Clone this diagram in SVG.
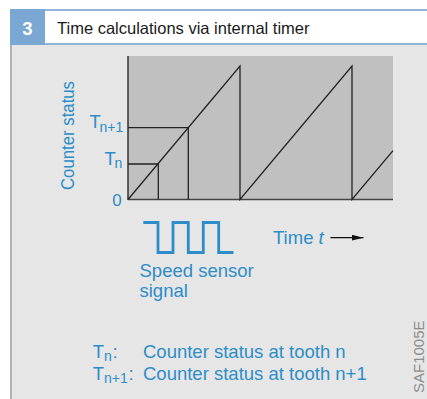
<svg xmlns="http://www.w3.org/2000/svg" width="427" height="399" viewBox="0 0 427 399">
<defs>
<style>
.blue{fill:#2d8dc8;font-family:"Liberation Sans",Arial,sans-serif}
.l18{font-size:18.5px}
.sub{font-size:14px}
.ln{stroke:#222;stroke-width:1.3;fill:none}
</style>
<marker id="arr" viewBox="0 0 12 6" refX="12" refY="3" markerWidth="12" markerHeight="6" markerUnits="userSpaceOnUse" orient="auto">
<path d="M0,0 L12,3 L0,6 Z" fill="#111"/>
</marker>
</defs>
<rect x="0" y="0" width="427" height="399" fill="#fff"/>
<g id="header">
<rect x="10" y="9" width="417" height="2" fill="#8fb5da"/>
<rect x="10" y="43" width="417" height="2" fill="#8fb5da"/>
<rect x="10" y="9" width="35" height="36" fill="#7ba8d2"/>
<text x="27.5" y="35" text-anchor="middle" font-family="Liberation Sans,Arial,sans-serif" font-weight="bold" font-size="18.5" fill="#fff">3</text>
<text x="57" y="34.3" font-family="Liberation Sans,Arial,sans-serif" font-size="16.5" fill="#1a1a1a">Time calculations via internal timer</text>
</g>
<g id="panel">
<rect x="10" y="45" width="417" height="354" fill="#e6e6e6"/>
<rect x="10" y="45" width="2" height="354" fill="#b3b3b3"/>
</g>
<g id="plot">
<rect x="128" y="56" width="265" height="144" fill="#c0c0c0"/>
<line x1="128" y1="56" x2="128" y2="200" stroke="#333" stroke-width="1.5"/>
<line x1="128" y1="199.5" x2="393" y2="199.5" stroke="#444" stroke-width="1.5"/>
</g>
<g id="connectors">
<path class="ln" d="M128,199.5 L240,66 V199.5 L352,66 V199.5 L393,150.6"/>
<path class="ln" d="M128,164 H158.3 V199.5"/>
<path class="ln" d="M128,127.7 H188.3 V199.5"/>
<path d="M143.3,222.5 H158 V252.5 H173 V222.5 H188.3 V252.5 H203.3 V222.5 H218.7 V252.5 H233.5" fill="none" stroke="#2d8dc8" stroke-width="2.8"/>
<line x1="330.5" y1="237.7" x2="363.5" y2="237.7" stroke="#111" stroke-width="1.3" marker-end="url(#arr)"/>
</g>
<g id="axis-labels">
<text class="blue" font-size="18" textLength="109" lengthAdjust="spacingAndGlyphs" transform="translate(74,190) rotate(-90)">Counter status</text>
<text class="blue" font-size="17" x="121.7" y="206" text-anchor="end">0</text>
<text class="blue l18" x="104.5" y="165">T</text>
<text class="blue sub" x="114.5" y="168.3">n</text>
<text class="blue l18" x="89.5" y="128.3">T</text>
<text class="blue sub" x="99.5" y="131.5">n+1</text>
<text class="blue l18" x="273" y="244">Time <tspan font-style="italic">t</tspan></text>
<text class="blue l18" x="139.5" y="277">Speed sensor</text>
<text class="blue l18" x="139.5" y="297">signal</text>
</g>
<g id="legend">
<text class="blue l18" x="92.7" y="358.3">T</text>
<text class="blue sub" x="104" y="361">n</text>
<text class="blue l18" x="112.5" y="358.3">:</text>
<text class="blue l18" x="143" y="358.3">Counter status at tooth n</text>
<text class="blue l18" x="92.7" y="380">T</text>
<text class="blue sub" x="104" y="382.5">n+1</text>
<text class="blue l18" x="128.5" y="380">:</text>
<text class="blue l18" x="143" y="380">Counter status at tooth n+1</text>
</g>
<text transform="translate(423.8,393) rotate(-90)" font-family="Liberation Sans,Arial,sans-serif" font-size="15" fill="#8c8c8c">SAF1005E</text>
</svg>
